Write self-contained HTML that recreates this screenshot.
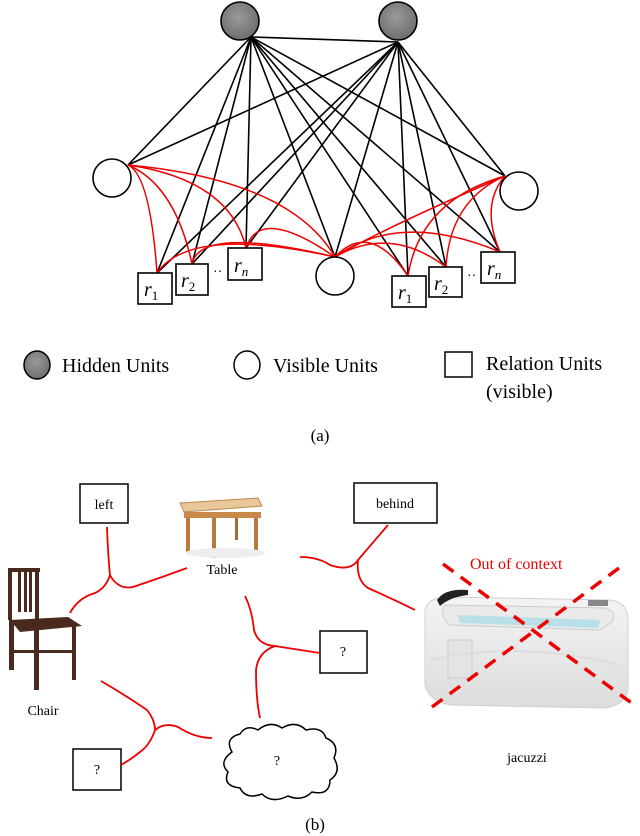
<!DOCTYPE html>
<html><head><meta charset="utf-8"><style>
html,body{margin:0;padding:0;background:#fff;}
svg{display:block;font-family:"Liberation Serif",serif;}
</style></head><body>
<svg width="640" height="836" viewBox="0 0 640 836" xmlns="http://www.w3.org/2000/svg">
<defs>
<radialGradient id="g" cx="0.45" cy="0.4" r="0.6"><stop offset="0" stop-color="#9a9a9a"/><stop offset="1" stop-color="#6e6e6e"/></radialGradient>
<linearGradient id="tub" x1="0" y1="0" x2="0" y2="1"><stop offset="0" stop-color="#f4f4f4"/><stop offset="1" stop-color="#dcdcdc"/></linearGradient>
</defs>
<g stroke="#000" stroke-width="1.6" fill="none">
<line x1="251" y1="37" x2="398" y2="42"/>
<line x1="251" y1="37" x2="128" y2="165"/>
<line x1="251" y1="37" x2="157" y2="273"/>
<line x1="251" y1="37" x2="192" y2="264"/>
<line x1="251" y1="37" x2="246" y2="248"/>
<line x1="251" y1="37" x2="335" y2="257"/>
<line x1="251" y1="37" x2="408" y2="276"/>
<line x1="251" y1="37" x2="446" y2="267"/>
<line x1="251" y1="37" x2="500" y2="252"/>
<line x1="251" y1="37" x2="505" y2="176"/>
<line x1="398" y1="42" x2="128" y2="165"/>
<line x1="398" y1="42" x2="157" y2="273"/>
<line x1="398" y1="42" x2="192" y2="264"/>
<line x1="398" y1="42" x2="246" y2="248"/>
<line x1="398" y1="42" x2="335" y2="257"/>
<line x1="398" y1="42" x2="408" y2="276"/>
<line x1="398" y1="42" x2="446" y2="267"/>
<line x1="398" y1="42" x2="500" y2="252"/>
<line x1="398" y1="42" x2="505" y2="176"/>
</g>
<g stroke="#e00" stroke-width="1.5" fill="none">
<path d="M128 165 Q 150 175 157 273"/>
<path d="M128 165 Q 175 185 192 264"/>
<path d="M128 165 Q 230 180 246 248"/>
<path d="M128 165 Q 290 180 335 257"/>
<path d="M157 273 Q 190 225 335 257"/>
<path d="M192 264 Q 200 225 335 257"/>
<path d="M246 248 Q 260 205 335 257"/>
<path d="M335 257 Q 370 220 408 276"/>
<path d="M335 257 Q 390 225 446 267"/>
<path d="M335 257 Q 400 210 500 252"/>
<path d="M335 257 Q 380 230 505 176"/>
<path d="M505 176 Q 420 200 408 276"/>
<path d="M505 176 Q 450 200 446 267"/>
<path d="M505 176 Q 480 205 500 252"/>
</g>
<circle cx="240" cy="21" r="19" fill="url(#g)" stroke="#000" stroke-width="1.6"/>
<circle cx="398" cy="21" r="19" fill="url(#g)" stroke="#000" stroke-width="1.6"/>
<circle cx="112" cy="178" r="19" fill="#fff" stroke="#000" stroke-width="1.6"/>
<circle cx="519" cy="191" r="19" fill="#fff" stroke="#000" stroke-width="1.6"/>
<circle cx="335" cy="276" r="19" fill="#fff" stroke="#000" stroke-width="1.6"/>
<g fill="#fff" stroke="#000" stroke-width="1.6">
<rect x="138" y="273" width="34" height="31"/>
<rect x="176" y="264" width="32" height="31"/>
<rect x="228" y="248" width="34" height="32"/>
<rect x="392" y="276" width="34" height="31"/>
<rect x="429" y="267" width="33" height="30"/>
<rect x="481" y="252" width="34" height="31"/>
</g>
<g font-family="'Liberation Serif',serif" font-style="italic" font-size="20">
<text x="144" y="296">r<tspan font-size="13" dy="4" font-style="normal">1</tspan></text>
<text x="181" y="287">r<tspan font-size="13" dy="4" font-style="normal">2</tspan></text>
<text x="234" y="272">r<tspan font-size="13" dy="4" font-style="italic">n</tspan></text>
<text x="398" y="299">r<tspan font-size="13" dy="4" font-style="normal">1</tspan></text>
<text x="434" y="290">r<tspan font-size="13" dy="4" font-style="normal">2</tspan></text>
<text x="487" y="275">r<tspan font-size="13" dy="4" font-style="italic">n</tspan></text>
</g>
<text x="213" y="276" font-size="14">··</text>
<text x="467" y="280" font-size="14">··</text>
<ellipse cx="37" cy="365" rx="13" ry="14" fill="url(#g)" stroke="#000" stroke-width="1.5"/>
<text x="62" y="372" font-size="20">Hidden Units</text>
<ellipse cx="247" cy="365" rx="13" ry="14" fill="#fff" stroke="#000" stroke-width="1.5"/>
<text x="273" y="372" font-size="20">Visible Units</text>
<rect x="445" y="352" width="27" height="25" fill="#fff" stroke="#000" stroke-width="1.5"/>
<text x="486" y="370" font-size="20">Relation Units</text>
<text x="486" y="398" font-size="20">(visible)</text>
<text x="320" y="441" font-size="17" text-anchor="middle">(a)</text>

<g fill="#fff" stroke="#000" stroke-width="1.5">
<rect x="80" y="484" width="48" height="39"/>
<rect x="354" y="483" width="83" height="40"/>
<rect x="320" y="631" width="47" height="42"/>
<rect x="73" y="749" width="48" height="41"/>
</g>
<path d="M232 752 Q224 738 240 734 Q246 724 258 730 Q270 720 282 728 Q296 720 306 730 Q322 726 326 738 Q340 744 334 758 Q342 772 330 780 Q330 796 312 792 Q302 802 288 796 Q272 804 262 794 Q246 800 240 788 Q222 786 228 772 Q218 762 232 752 Z" fill="#fff" stroke="#000" stroke-width="1.5"/>
<g font-size="14" text-anchor="middle">
<text x="104" y="509">left</text>
<text x="395" y="508">behind</text>
<text x="343" y="656">?</text>
<text x="97" y="774">?</text>
<text x="222" y="574">Table</text>
<text x="43" y="715">Chair</text>
<text x="527" y="762">jacuzzi</text>
<text x="277" y="765">?</text>
<text x="315" y="830" font-size="17">(b)</text>
</g>
<g stroke="#e00" stroke-width="1.8" fill="none">
<path d="M107 527 Q108 555 110 575 Q106 588 95 593 Q78 598 70 613"/>
<path d="M110 575 Q118 590 133 587 Q160 578 187 568"/>
<path d="M300 557 Q318 557 330 565 Q350 572 358 560 Q375 540 388 525"/>
<path d="M358 560 Q356 580 368 588 Q395 600 415 610"/>
<path d="M245 596 Q252 610 254 630 Q258 645 275 646 Q300 650 320 653"/>
<path d="M275 646 Q258 652 256 670 Q256 700 260 718"/>
<path d="M101 681 Q125 695 147 710 Q155 720 155 730 Q150 745 140 752 Q130 760 121 765"/>
<path d="M155 730 Q165 722 178 727 Q195 738 212 738"/>
</g>
<g>
<polygon points="180,503 258,498 262,506 184,512" fill="#e8c79a" stroke="#c08a50" stroke-width="1"/>
<rect x="184" y="512" width="77" height="6" fill="#c8894a"/>
<rect x="186" y="518" width="4" height="35" fill="#b97a3e"/>
<rect x="212" y="518" width="4" height="40" fill="#b97a3e"/>
<rect x="254" y="518" width="4" height="32" fill="#b97a3e"/>
<rect x="235" y="518" width="3" height="22" fill="#a86a35"/>
<ellipse cx="225" cy="553" rx="40" ry="5" fill="#eee"/>
</g>
<g fill="#4a2a1e">
<rect x="8" y="570" width="4" height="50"/>
<rect x="35" y="569" width="4" height="55"/>
<rect x="8" y="568" width="32" height="4"/>
<rect x="18" y="572" width="3" height="40"/>
<rect x="24" y="572" width="3" height="40"/>
<rect x="29" y="572" width="3" height="40"/>
<polygon points="10,620 68,617 82,626 20,632"/>
<rect x="9" y="620" width="5" height="50"/>
<rect x="34" y="630" width="5" height="60"/>
<rect x="72" y="624" width="4" height="56"/>
<rect x="14" y="650" width="60" height="3"/>
</g>
<g>
<path d="M425 610 Q428 598 445 597 L610 600 Q628 602 628 620 L628 690 Q625 705 605 708 L450 705 Q428 700 425 685 Z" fill="url(#tub)" stroke="#d0d0d0" stroke-width="1"/>
<path d="M445 605 L605 608 Q618 612 612 622 L600 630 L450 625 Q438 615 445 605 Z" fill="#eaeaea" stroke="#ccc"/>
<path d="M458 615 L600 620 L598 628 L460 623 Z" fill="#b8e0e6"/>
<path d="M437 600 Q445 588 468 590 L468 595 Q450 597 440 606 Z" fill="#222"/>
<rect x="588" y="600" width="20" height="6" fill="#888"/>
<rect x="448" y="640" width="24" height="38" fill="#e4e4e4" stroke="#ccc"/>
<path d="M430 660 Q520 640 620 665" fill="none" stroke="#ddd" stroke-width="2"/>
</g>
<g stroke="#e00" stroke-width="3.5" stroke-dasharray="13,9" fill="none">
<line x1="443" y1="564" x2="637" y2="707"/>
<line x1="432" y1="707" x2="623" y2="565"/>
</g>
<text x="470" y="569" font-size="16" fill="#e00">Out of context</text>
</svg>
</body></html>
